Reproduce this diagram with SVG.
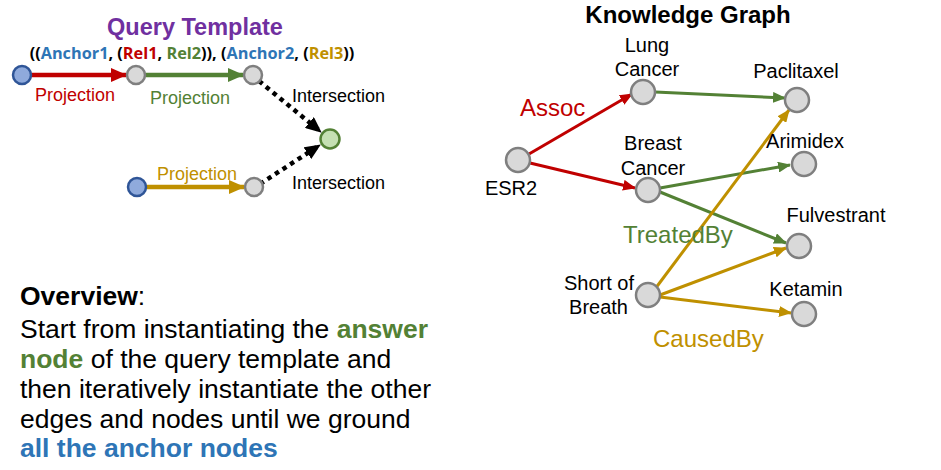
<svg xmlns="http://www.w3.org/2000/svg" width="941" height="470" viewBox="0 0 941 470">
  <style>
    text { font-family: "Liberation Sans", Arial, sans-serif; }
    .gray { fill: #D9D9D9; stroke: #7F7F7F; stroke-width: 2.5; }
    .anchor { fill: #8FAADC; stroke: #2F5597; stroke-width: 2.5; }
    .answer { fill: #C5E0B3; stroke: #538135; stroke-width: 2.5; }
    .lbl { font-size: 20px; fill: #000; }
    .red { stroke: #C00000; }
    .grn { stroke: #538135; }
    .gld { stroke: #BF9000; }
    .qedge { fill: none; stroke-width: 4.5; }
    .kedge { fill: none; stroke-width: 3; }
    .dot { fill: none; stroke: #000; stroke-width: 4.5; stroke-dasharray: 4.5 4.5; }
  </style>
  <defs>
    <marker id="qRed" markerUnits="userSpaceOnUse" markerWidth="16" markerHeight="14" refX="15" refY="7" orient="auto"><path d="M0,0 L16,7 L0,14 Z" fill="#C00000"/></marker>
    <marker id="qGrn" markerUnits="userSpaceOnUse" markerWidth="16" markerHeight="14" refX="15" refY="7" orient="auto"><path d="M0,0 L16,7 L0,14 Z" fill="#538135"/></marker>
    <marker id="qGld" markerUnits="userSpaceOnUse" markerWidth="16" markerHeight="14" refX="15" refY="7" orient="auto"><path d="M0,0 L16,7 L0,14 Z" fill="#BF9000"/></marker>
    <marker id="qBlk" markerUnits="userSpaceOnUse" markerWidth="16" markerHeight="14" refX="15" refY="7" orient="auto"><path d="M0,0 L16,7 L0,14 Z" fill="#000"/></marker>
    <marker id="kRed" markerUnits="userSpaceOnUse" markerWidth="13" markerHeight="11" refX="12" refY="5.5" orient="auto"><path d="M0,0 L13,5.5 L0,11 Z" fill="#C00000"/></marker>
    <marker id="kGrn" markerUnits="userSpaceOnUse" markerWidth="13" markerHeight="11" refX="12" refY="5.5" orient="auto"><path d="M0,0 L13,5.5 L0,11 Z" fill="#538135"/></marker>
    <marker id="kGld" markerUnits="userSpaceOnUse" markerWidth="13" markerHeight="11" refX="12" refY="5.5" orient="auto"><path d="M0,0 L13,5.5 L0,11 Z" fill="#BF9000"/></marker>
  </defs>

  <!-- Query template: title and formula -->
  <text x="195" y="35" text-anchor="middle" font-size="23.5" font-weight="bold" fill="#7030A0">Query Template</text>
  <text x="192" y="59" text-anchor="middle" font-size="16.3" font-weight="bold" style="font-family:'Open Sans', sans-serif"><tspan fill="#000">((</tspan><tspan fill="#2E75B6">Anchor1</tspan><tspan fill="#000">, (</tspan><tspan fill="#C00000">Rel1</tspan><tspan fill="#000">, </tspan><tspan fill="#538135">Rel2</tspan><tspan fill="#000">)), (</tspan><tspan fill="#2E75B6">Anchor2</tspan><tspan fill="#000">, (</tspan><tspan fill="#BF9000">Rel3</tspan><tspan fill="#000">))</tspan></text>

  <!-- Query template connectors -->
  <g id="query-edges">
    <line class="qedge red" x1="31" y1="75" x2="126" y2="75" marker-end="url(#qRed)"/>
    <line class="qedge grn" x1="145" y1="75" x2="243" y2="75" marker-end="url(#qGrn)"/>
    <line class="qedge gld" x1="146" y1="187" x2="244" y2="187" marker-end="url(#qGld)"/>
    <line class="dot" x1="259" y1="81" x2="321" y2="132" marker-end="url(#qBlk)"/>
    <line class="dot" x1="260" y1="184" x2="320" y2="145" marker-end="url(#qBlk)"/>
  </g>
  <g id="query-edge-labels" font-size="18">
    <text x="35" y="101" fill="#C00000">Projection</text>
    <text x="150" y="104" fill="#538135">Projection</text>
    <text x="157" y="180" fill="#BF9000">Projection</text>
    <text x="292" y="102" fill="#000">Intersection</text>
    <text x="292" y="189" fill="#000">Intersection</text>
  </g>

  <!-- Query template nodes -->
  <g id="q-anchor1"><circle class="anchor" cx="22" cy="75" r="9"/></g>
  <g id="q-var1"><circle class="gray" cx="136" cy="75" r="9"/></g>
  <g id="q-var2"><circle class="gray" cx="253" cy="75" r="9"/></g>
  <g id="q-answer"><circle class="answer" cx="330" cy="139" r="9.5"/></g>
  <g id="q-anchor2"><circle class="anchor" cx="137" cy="187" r="9"/></g>
  <g id="q-var3"><circle class="gray" cx="254" cy="187" r="9"/></g>

  <!-- Overview text -->
  <g id="overview" font-size="26.5">
    <text x="20" y="305" font-weight="bold">Overview<tspan font-weight="normal">:</tspan></text>
    <text x="20" y="338">Start from instantiating the <tspan fill="#538135" font-weight="bold">answer</tspan></text>
    <text x="20" y="368"><tspan fill="#538135" font-weight="bold">node</tspan> of the query template and</text>
    <text x="20" y="398">then iteratively instantiate the other</text>
    <text x="20" y="428">edges and nodes until we ground</text>
    <text x="20" y="457" fill="#2E75B6" font-weight="bold">all the anchor nodes</text>
  </g>

  <!-- Knowledge graph -->
  <text x="688" y="23" text-anchor="middle" font-size="24" font-weight="bold">Knowledge Graph</text>

  <g id="kg-edges">
    <line class="kedge red" x1="529" y1="154" x2="632" y2="94" marker-end="url(#kRed)"/>
    <line class="kedge red" x1="530" y1="163" x2="635" y2="188" marker-end="url(#kRed)"/>
    <line class="kedge grn" x1="655" y1="92" x2="785" y2="98" marker-end="url(#kGrn)"/>
    <line class="kedge grn" x1="660" y1="188" x2="790" y2="165" marker-end="url(#kGrn)"/>
    <line class="kedge grn" x1="660" y1="192" x2="786" y2="243" marker-end="url(#kGrn)"/>
    <line class="kedge gld" x1="655" y1="289" x2="789" y2="110" marker-end="url(#kGld)"/>
    <line class="kedge gld" x1="660" y1="295" x2="786" y2="248" marker-end="url(#kGld)"/>
    <line class="kedge gld" x1="660" y1="297" x2="791" y2="313" marker-end="url(#kGld)"/>
  </g>
  <g id="kg-edge-labels" font-size="24">
    <text x="520" y="116" fill="#C00000">Assoc</text>
    <text x="623" y="243" fill="#538135">TreatedBy</text>
    <text x="653" y="347" fill="#BF9000">CausedBy</text>
  </g>

  <g id="kg-esr2"><circle class="gray" cx="518" cy="160" r="12"/><text class="lbl" x="511" y="195" text-anchor="middle">ESR2</text></g>
  <g id="kg-lung-cancer"><circle class="gray" cx="643" cy="92" r="12"/><text class="lbl" x="647" y="52" text-anchor="middle">Lung</text><text class="lbl" x="647" y="76" text-anchor="middle">Cancer</text></g>
  <g id="kg-breast-cancer"><circle class="gray" cx="648" cy="190" r="12"/><text class="lbl" x="653" y="150" text-anchor="middle">Breast</text><text class="lbl" x="653" y="175" text-anchor="middle">Cancer</text></g>
  <g id="kg-paclitaxel"><circle class="gray" cx="797" cy="100" r="12"/><text class="lbl" x="796" y="78" text-anchor="middle">Paclitaxel</text></g>
  <g id="kg-arimidex"><circle class="gray" cx="804" cy="164" r="12"/><text class="lbl" x="805" y="148" text-anchor="middle">Arimidex</text></g>
  <g id="kg-fulvestrant"><circle class="gray" cx="799" cy="246" r="12"/><text class="lbl" x="836" y="222" text-anchor="middle">Fulvestrant</text></g>
  <g id="kg-short-of-breath"><circle class="gray" cx="648" cy="295" r="12"/><text class="lbl" x="634" y="290" text-anchor="end">Short of</text><text class="lbl" x="628" y="314" text-anchor="end">Breath</text></g>
  <g id="kg-ketamin"><circle class="gray" cx="804" cy="314" r="12"/><text class="lbl" x="806" y="296" text-anchor="middle">Ketamin</text></g>
</svg>
